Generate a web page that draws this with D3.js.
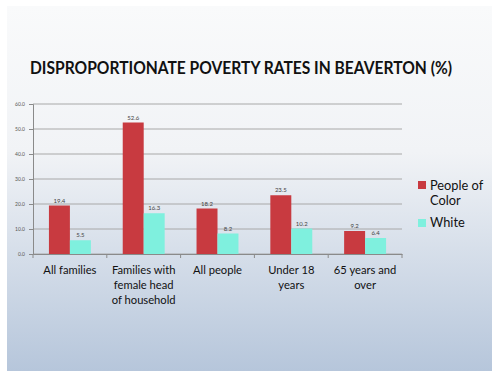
<!DOCTYPE html>
<html>
<head>
<meta charset="utf-8">
<script src="https://cdn.jsdelivr.net/npm/d3@7"></script>
<style>
  body { margin: 0; background: #fff; }
  svg { display: block; }
</style>
</head>
<body>
<div id="chart"></div>
<script>
// Data
const categories = [
  ["All families"],
  ["Families with", "female head", "of household"],
  ["All people"],
  ["Under 18", "years"],
  ["65 years and", "over"]
];
const seriesNames = ["People of Color", "White"];
const peopleOfColor = [19.4, 52.6, 18.2, 23.5, 9.2];
const white = [5.5, 16.3, 8.2, 10.2, 6.4];
const yTicks = [0, 10, 20, 30, 40, 50, 60];

const width = 492, height = 371;
const margin = { top: 104, right: 90, bottom: 117, left: 33 };
const colors = ["#c83a40", "#7ff0de"];

const svg = d3.select("#chart").append("svg")
  .attr("width", width)
  .attr("height", height);

// slide background
const defs = svg.append("defs");
const grad = defs.append("linearGradient")
  .attr("id", "bg").attr("x1", 0).attr("y1", 0).attr("x2", 0).attr("y2", 1);
grad.append("stop").attr("offset", "0%").attr("stop-color", "#f9fafb");
grad.append("stop").attr("offset", "40%").attr("stop-color", "#f1f3f6");
grad.append("stop").attr("offset", "100%").attr("stop-color", "#b6c6db");

svg.append("rect")
  .attr("x", 7).attr("y", 6)
  .attr("width", width - 7).attr("height", height - 6)
  .attr("fill", "url(#bg)");

// Title
svg.append("text")
  .attr("x", 30).attr("y", 74)
  .attr("font-family", "Lato, 'Open Sans', sans-serif")
  .attr("font-weight", "bold")
  .attr("font-size", 16.5)
  .attr("fill", "#111")
  .attr("textLength", 422)
  .attr("lengthAdjust", "spacingAndGlyphs")
  .text("DISPROPORTIONATE POVERTY RATES IN BEAVERTON (%)");

// Scales
const x0 = d3.scaleBand()
  .domain(d3.range(categories.length))
  .range([margin.left, width - margin.right])
  .paddingInner(0)
  .paddingOuter(0);

const x1 = d3.scaleBand()
  .domain([0, 1])
  .range([0, x0.bandwidth()])
  .paddingOuter(0.76)
  .paddingInner(0);

const y = d3.scaleLinear()
  .domain([0, 60])
  .range([height - margin.bottom, margin.top]);

// Gridlines
svg.append("g")
  .selectAll("line")
  .data(yTicks)
  .join("line")
  .attr("x1", margin.left)
  .attr("x2", width - margin.right)
  .attr("y1", d => y(d))
  .attr("y2", d => y(d))
  .attr("stroke", "#a8a8a8")
  .attr("stroke-width", 1);

// Y axis
const yAxis = svg.append("g")
  .attr("transform", `translate(${margin.left},0)`)
  .call(d3.axisLeft(y).tickValues(yTicks).tickFormat(d3.format(".1f")).tickSize(4).tickPadding(4));
yAxis.select(".domain").attr("stroke", "#8a8a8a");
yAxis.selectAll(".tick line").attr("stroke", "#8a8a8a");
yAxis.selectAll(".tick text")
  .attr("font-family", "Lato, sans-serif")
  .attr("font-size", 5)
  .attr("fill", "#555");

// Bars
const series = [peopleOfColor, white];
const groups = svg.append("g")
  .selectAll("g")
  .data(series)
  .join("g")
  .attr("fill", (d, i) => colors[i]);

groups.selectAll("rect")
  .data((d, si) => d.map((v, ci) => ({ v, ci, si })))
  .join("rect")
  .attr("x", d => x0(d.ci) + x1(d.si))
  .attr("width", x1.bandwidth())
  .attr("y", d => y(d.v))
  .attr("height", d => y(0) - y(d.v));

// Value labels
groups.selectAll("text")
  .data((d, si) => d.map((v, ci) => ({ v, ci, si })))
  .join("text")
  .attr("x", d => x0(d.ci) + x1(d.si) + x1.bandwidth() / 2)
  .attr("y", d => y(d.v) - 3)
  .attr("text-anchor", "middle")
  .attr("font-family", "Lato, sans-serif")
  .attr("font-size", 6)
  .attr("fill", "#444")
  .text(d => d.v.toFixed(1));

// X axis
const xAxis = svg.append("g")
  .attr("transform", `translate(0,${y(0)})`)
  .call(d3.axisBottom(x0).tickSize(0).tickFormat(""));
xAxis.select(".domain").attr("stroke", "#8a8a8a");

// category tick marks at band boundaries
svg.append("g")
  .selectAll("line")
  .data(d3.range(categories.length + 1))
  .join("line")
  .attr("x1", i => margin.left + i * x0.bandwidth())
  .attr("x2", i => margin.left + i * x0.bandwidth())
  .attr("y1", y(0))
  .attr("y2", y(0) + 4)
  .attr("stroke", "#8a8a8a");

// Category labels
const catLabels = svg.append("g")
  .selectAll("text")
  .data(categories)
  .join("text")
  .attr("x", (d, i) => x0(i) + x0.bandwidth() / 2)
  .attr("y", y(0) + 20)
  .attr("text-anchor", "middle")
  .attr("font-family", "Lato, 'Open Sans', sans-serif")
  .attr("font-size", 11.2)
  .attr("fill", "#111");

catLabels.selectAll("tspan")
  .data(d => d)
  .join("tspan")
  .attr("x", function () { return d3.select(this.parentNode).attr("x"); })
  .attr("dy", (d, i) => i === 0 ? 0 : 15)
  .text(d => d);

// Legend
const legend = svg.append("g")
  .attr("transform", "translate(418,181)");

legend.append("rect")
  .attr("width", 8).attr("height", 8)
  .attr("fill", colors[0]);
legend.append("text")
  .attr("x", 12).attr("y", 9)
  .attr("font-family", "Lato, 'Open Sans', sans-serif")
  .attr("font-size", 12.8)
  .attr("fill", "#111")
  .selectAll("tspan")
  .data(["People of", "Color"])
  .join("tspan")
  .attr("x", 12)
  .attr("dy", (d, i) => i === 0 ? 0 : 15)
  .text(d => d);

legend.append("rect")
  .attr("y", 38)
  .attr("width", 8).attr("height", 8)
  .attr("fill", colors[1]);
legend.append("text")
  .attr("x", 12).attr("y", 46)
  .attr("font-family", "Lato, 'Open Sans', sans-serif")
  .attr("font-size", 12.8)
  .attr("fill", "#111")
  .text(seriesNames[1]);
</script>
</body>
</html>
